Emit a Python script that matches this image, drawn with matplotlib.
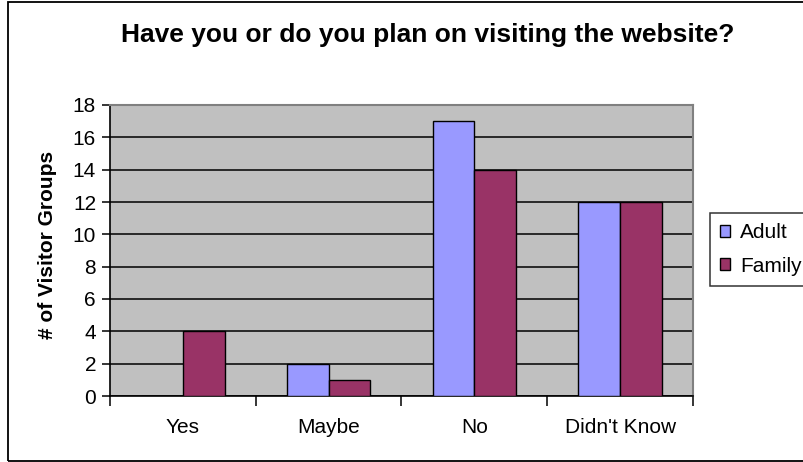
import matplotlib
matplotlib.use('Agg')
import matplotlib.pyplot as plt
import matplotlib.patches as mpatches
import numpy as np

categories = ['Yes', 'Maybe', 'No', "Didn't Know"]
adult = [0, 2, 17, 12]
family = [4, 1, 14, 12]
series_names = ['Adult', 'Family']
y_ticks = [0, 2, 4, 6, 8, 10, 12, 14, 16, 18]

adult_color = '#9999FF'
family_color = '#993366'

plt.rcParams['font.family'] = ['Liberation Sans', 'DejaVu Sans']

fig = plt.figure(figsize=(8.04, 4.62), dpi=100)
ax = fig.add_axes([110 / 804, 1 - 396 / 462, 583 / 804, 291 / 462])
ax.set_facecolor('#C0C0C0')

# outer chart border (runs off the right edge like the original)
fig.patches.append(mpatches.Rectangle((8 / 804, 1.5 / 462), 1.2, 1 - 3 / 462,
                                      transform=fig.transFigure, fill=False,
                                      edgecolor='black', linewidth=1.3))

x = np.arange(len(categories))
w = 1 / 3.5
ax.bar(x - w / 2, adult, w, color=adult_color, edgecolor='black', linewidth=1, label=series_names[0], zorder=3)
ax.bar(x + w / 2, family, w, color=family_color, edgecolor='black', linewidth=1, label=series_names[1], zorder=3)

ax.set_xlim(-0.5, len(categories) - 0.5)
ax.set_ylim(0, 18)
ax.set_yticks(y_ticks)
ax.yaxis.grid(True, color='black', linewidth=1.1, zorder=1)
ax.set_axisbelow(True)

ax.set_xticks(np.arange(-0.5, len(categories), 1))
ax.set_xticklabels([])
ax.set_xticks(x, minor=True)
ax.set_xticklabels(categories, minor=True, fontsize=15)
ax.tick_params(axis='x', which='major', length=7, width=1.1, direction='out')
ax.tick_params(axis='x', which='minor', length=0, pad=16)
ax.tick_params(axis='y', length=6, width=1.1, direction='out', labelsize=15, pad=4)

for s in ['top', 'right']:
    ax.spines[s].set_color('#808080')
    ax.spines[s].set_linewidth(1.5)
for s in ['left', 'bottom']:
    ax.spines[s].set_color('black')
    ax.spines[s].set_linewidth(1.2)

ax.set_ylabel('# of Visitor Groups', fontsize=15, fontweight='bold')
ax.yaxis.set_label_coords(-0.091, 0.52)

fig.text(428 / 804, 1 - 35 / 462, 'Have you or do you plan on visiting the website?',
         ha='center', va='center', fontsize=19, fontweight='bold')

# legend box runs off the right edge, as in the original
leg = ax.legend(loc='upper left', bbox_to_anchor=(710 / 804, 1 - 284 / 462, 110 / 804, 71 / 462),
                bbox_transform=fig.transFigure, mode='expand', frameon=True, fancybox=False,
                fontsize=15, handlelength=0.5, handleheight=0.5, handletextpad=0.45,
                borderpad=0.48, labelspacing=0.7, borderaxespad=0)
leg.get_frame().set_edgecolor('black')
leg.get_frame().set_linewidth(1.1)

fig.savefig('out.png', dpi=100)
